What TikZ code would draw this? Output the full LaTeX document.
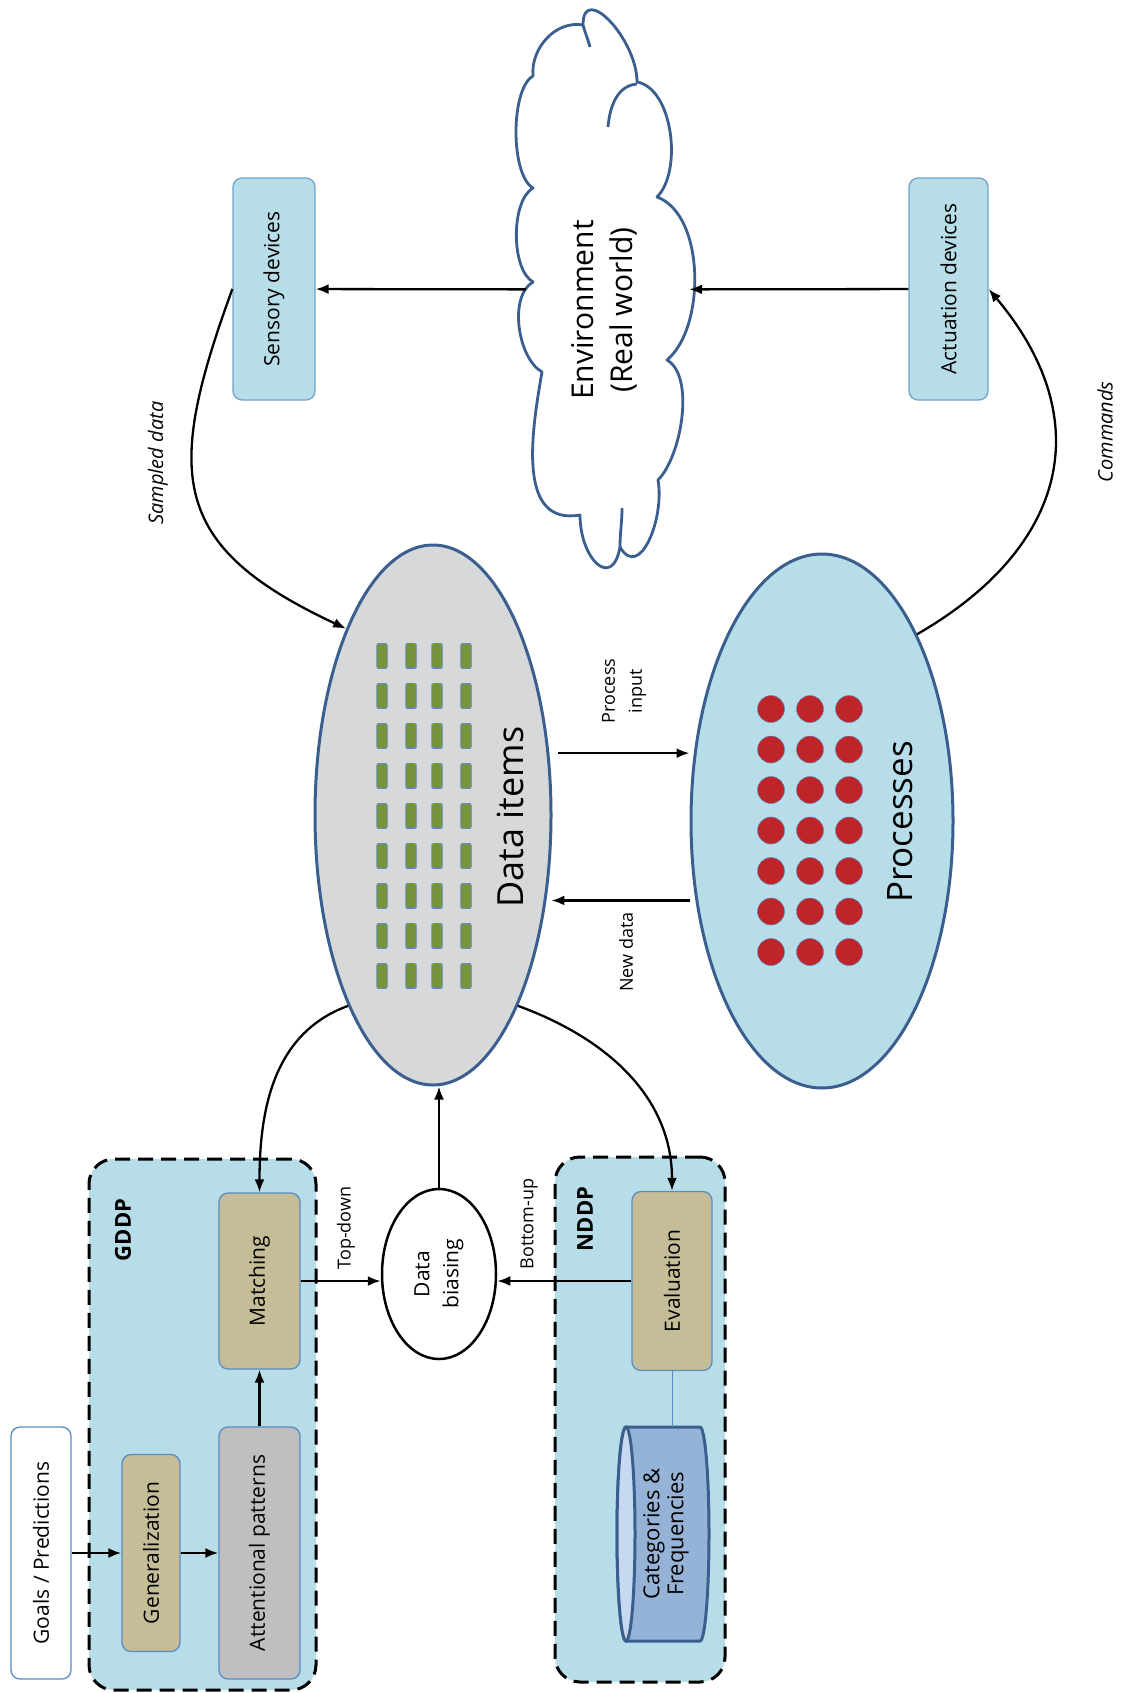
\documentclass[tikz,border=0pt]{standalone}
\usepackage{fontspec}
\setmainfont{Open Sans}
\usetikzlibrary{positioning}
\usetikzlibrary{shapes.geometric}
\usetikzlibrary{arrows.meta}

\definecolor{aqua}{HTML}{B7DEE8}
\definecolor{khaki}{HTML}{C4BD97}
\definecolor{boxline}{HTML}{5B8BC2}
\definecolor{darkline}{HTML}{3A5F8E}
\definecolor{olive}{HTML}{77933C}
\definecolor{dotred}{HTML}{BF2429}
\definecolor{cylbody}{HTML}{95B3D7}
\definecolor{cylend}{HTML}{C6D9F1}
\definecolor{itemgray}{HTML}{D7D8DA}
\definecolor{pattgray}{HTML}{BFBFC2}
\definecolor{devline}{HTML}{6FA3C7}

\tikzset{
  arr/.style={-{Latex[length=13pt,width=10pt]}, line width=2.3pt, black},
  blk/.style={rectangle, rounded corners=9pt, rotate=90, draw=boxline, line width=1.3pt, font=\fontsize{21}{24}\selectfont},
  lbl/.style={rotate=90, align=center, font=\fontsize{18}{27}\selectfont},
  grp/.style={draw=black, dash pattern=on 15pt off 8pt, line width=3pt, fill=aqua, rounded corners=25pt},
  item/.style={rectangle, fill=olive, draw=boxline, line width=0.8pt, minimum width=10.5pt, minimum height=25pt, inner sep=0pt, rounded corners=1.5pt},
  dot/.style={circle, fill=dotred, draw=boxline, line width=0.5pt, minimum size=27pt, inner sep=0pt},
  cloudline/.style={draw=darkline, line width=2.8pt, line join=round},
}

\begin{document}
\begin{tikzpicture}[x={(1pt,0)}, y={(0,-1pt)}]
\useasboundingbox (0,0) rectangle (1120,1693);

% world side
\path[cloudline, fill=white]
  (583,25) to[out=90, in=90, looseness=1.4] (637,82)
  to[out=-10, in=45, looseness=0.8] (657,197)
  to[out=-20, in=40, looseness=0.8] (667,360)
  to[out=-30, in=45, looseness=0.7] (658,480)
  to[out=-80, in=-60, looseness=1.3] (620,547)
  to[out=-100, in=-90, looseness=2.2] (580,515)
  to[out=190, in=-100, looseness=1.1] (542,372)
  to[out=150, in=210, looseness=0.8] (533,282)
  to[out=150, in=210, looseness=0.7] (533,188)
  to[out=150, in=210, looseness=0.6] (533,76)
  to[out=95, in=170, looseness=1] (583,25) -- cycle;
\draw[cloudline] (583,25) to[out=-75, in=105] (590,47);
\draw[cloudline] (637,84) to[out=185, in=85] (608,127);
\draw[cloudline] (620,547) to[out=90, in=-90] (622,508);
\node[rotate=90, minimum width=561pt, minimum height=163pt] (env) at (607.5,289.5) {};
\node[rotate=90, align=center, font=\fontsize{30}{39}\selectfont] (envtxt) at (604,310) {Environment\\(Real world)};
\node[blk, fill=aqua, draw=devline, minimum width=222pt, minimum height=82pt] (sens) at (274,289) {Sensory devices};
\node[blk, fill=aqua, draw=devline, minimum width=222pt, minimum height=79pt] (act) at (948.5,289) {Actuation devices};
\node[lbl, font=\itshape\fontsize{20}{24}\selectfont] (samp) at (158,463) {Sampled data};
\node[lbl, font=\itshape\fontsize{20}{24}\selectfont] (cmd) at (1105,432) {Commands};

% data items and processes
\node[ellipse, draw=darkline, line width=3pt, fill=itemgray, minimum width=236pt, minimum height=540pt] (data) at (433,815) {};
\node[ellipse, draw=darkline, line width=3pt, fill=aqua, minimum width=262pt, minimum height=534pt] (proc) at (822,821) {};
\foreach \x in {382,411,437,466}
  \foreach \y in {656,696,736,776,816,856,896,936,976}
    \node[item] at (\x,\y) {};
\foreach \x in {771,810,849}
  \foreach \y in {709,749.5,790,830.5,871,911.5,952}
    \node[dot] at (\x,\y) {};
\node[rotate=90, font=\fontsize{36}{40}\selectfont] (datatxt) at (510,817) {Data items};
\node[rotate=90, font=\fontsize{35}{40}\selectfont] (proctxt) at (900,822) {Processes};
\node[lbl] (pin) at (624,691) {Process\\input};
\node[lbl] (nd) at (626,952) {New data};

% GDDP
\node[grp, minimum width=227pt, minimum height=531pt] (gddp) at (202.5,1424.5) {};
\node[rotate=90, font=\bfseries\fontsize{22}{26}\selectfont] (gddplbl) at (123,1230) {GDDP};
\node[blk, fill=white, minimum width=252pt, minimum height=60pt] (goals) at (41,1553) {Goals / Predictions};
\node[blk, fill=khaki, minimum width=197pt, minimum height=58pt] (gen) at (151,1553) {Generalization};
\node[blk, fill=pattgray, minimum width=252pt, minimum height=81pt] (att) at (259.5,1553) {Attentional patterns};
\node[blk, fill=khaki, minimum width=176pt, minimum height=81pt] (match) at (259.5,1281) {Matching};

% data biasing
\node[lbl, ellipse, draw, line width=2.5pt, fill=white, minimum width=170pt, minimum height=114pt, inner sep=0pt, font=\fontsize{21}{29}\selectfont] (bias) at (439,1274) {Data\\biasing};
\node[lbl] (td) at (346,1228) {Top-down};
\node[lbl] (bu) at (529,1224) {Bottom-up};

% NDDP
\node[grp, minimum width=170pt, minimum height=525pt] (nddp) at (640,1419.5) {};
\node[rotate=90, font=\bfseries\fontsize{22}{26}\selectfont] (nddplbl) at (585,1219) {NDDP};
\node[blk, fill=khaki, minimum width=179pt, minimum height=80pt] (eval) at (672,1281) {Evaluation};
\fill[cylbody, draw=darkline, line width=3pt] (626,1427) -- (700,1427)
  arc[start angle=90, end angle=-90, x radius=9pt, y radius=107pt]
  -- (626,1641) arc[start angle=270, end angle=90, x radius=9pt, y radius=107pt] -- cycle;
\filldraw[fill=cylend, draw=darkline, line width=3pt] (626,1534) ellipse[x radius=9pt, y radius=107pt];
\node[lbl, font=\fontsize{22}{24}\selectfont, minimum width=214pt, minimum height=74pt] (cat) at (666,1534) {Categories \&\\Frequencies};

% connectors
\draw[arr] (env) -- (sens);
\draw[arr] (act) -- (env);
\draw[arr] (sens.north) to[out=250, in=155, looseness=1.4] (data.115);
\draw[arr] (proc.63) to[out=30, in=-50, looseness=1.25] (act.south);
\draw[arr] ([xshift=9pt]data.28) -- (data.28 -| proc.west);
\draw[arr] (data.-37 -| proc.west) -- ([xshift=5pt]data.-37);
\draw[arr] (data.246) to[out=200, in=90] (match.east);
\draw[arr] (data.-66) to[out=-20, in=90] (eval.east);
\draw[arr] (goals) -- (gen);
\draw[arr] (gen) -- (att);
\draw[arr] (att) -- (match);
\draw[arr] (match) -- (match -| bias.north);
\draw[arr] (eval) -- (eval -| bias.south);
\draw[arr] (bias) -- (bias |- data.south);
\draw[boxline, line width=1pt] (eval.west) -- (eval.west |- cat.east);
\end{tikzpicture}
\end{document}
